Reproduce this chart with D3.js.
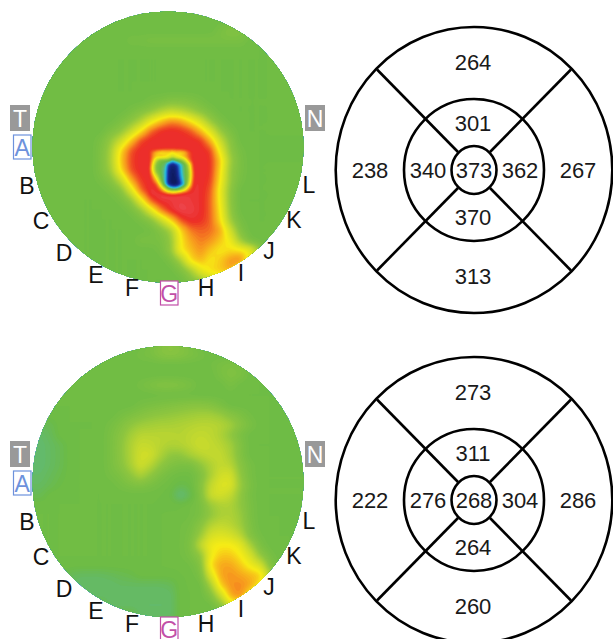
<!DOCTYPE html>
<html><head><meta charset="utf-8">
<script src="https://cdnjs.cloudflare.com/ajax/libs/d3/7.8.5/d3.min.js"></script>
<style>html,body{margin:0;padding:0;background:#fff}svg{display:block}text{font-family:"Liberation Sans",Arial,sans-serif}</style>
</head><body><svg id="c" width="613" height="639"></svg>
<script>
// Thickness levels: [y, xStart, values every 10 px...]; anything not listed is the base level.
const baseLevel = 41;
const topMapRows = [
[30,220,44,47,46,44],[40,130,43,43,44,44,44,44,44,44,44,44,44,44],
[100,150,43,44,46,46,45,43],
[110,130,43,46,49,55,59,57,53,48,44],
[120,120,44,48,55,67,76,82,80,72,63,51,44],
[130,110,45,49,59,72,85,90,91,90,87,78,65,51,44],
[140,100,44,51,61,76,88,91,91,91,91,91,90,79,61,48],
[150,100,45,54,74,87,91,90,90,90,90,91,91,89,69,50,43],
[160,100,45,55,76,88,91,91,91,91,91,91,91,90,76,53,44],
[170,100,45,53,73,87,91,91,91,91,91,91,91,90,74,51,44],
[180,100,43,47,59,79,89,91,91,91,91,91,91,89,72,51,43],
[190,110,43,47,65,85,92,94,93,92,92,91,87,69,49],
[200,120,43,49,68,87,92,92,93,92,91,86,70,49],
[210,130,43,50,66,83,91,94,93,91,86,72,50],
[220,140,43,47,59,74,87,91,90,86,74,53,43],
[230,150,42,46,54,74,84,86,85,80,63,46],
[240,140,44,44,44,50,72,80,84,82,76,70,53,43],
[250,160,43,50,72,77,82,76,72,74,74,70,51,42],
[260,170,44,54,74,78,72,76,82,84,67,47],
[270,180,45,54,68,74,76,80,65,47],
[280,190,46,52,60,64,54]
];
const topFoveaRows = [
[91,90,88,84,78,76,76,80,84,88,90,91,91],
[88,84,76,70,72,74,70,74,72,76,86,90,91],
[88,84,76,80,78,72,64,72,76,80,86,90,91],
[90,80,58,42,42,42,22,36,44,58,82,90,91],
[88,74,46,40,36,8,3,8,22,36,60,88,91],
[84,70,44,40,30,6,1,4,20,36,54,86,91],
[88,76,50,40,28,4,0,3,18,36,50,84,91],
[90,84,66,42,28,4,0,2,16,34,50,84,91],
[91,88,78,50,26,3,0,0,12,30,54,86,91],
[91,90,88,68,30,6,0,0,8,26,64,88,91],
[91,91,90,84,66,36,24,24,40,60,82,90,91],
[91,92,91,90,86,80,76,78,84,88,90,91,91],
[92,93,92,91,91,90,90,90,91,91,91,91,91]
];
const bottomMapRows = [
[10,150,44,47,49,47,44],[20,140,43,44,47,48,47,45,43],
[30,210,42,44,45,44],[40,220,44,46,45],[50,140,43,45,47,47,46,44],[50,230,44],
[70,140,43,44,45,46,47,48,48,47,44],
[80,120,43,45,47,49,50,51,52,53,54,54,52,48,45,42],
[90,40,37,38],[90,110,43,46,50,53,54,55,55,56,57,58,58,57,54,48,44],
[100,30,35,35,37],[100,110,44,48,54,58,58,58,58,57,59,60,59,56,50,44],
[110,30,34,34,36,38],[110,110,44,49,56,61,60,58,56,57,59,62,60,58,54,46],
[120,30,34,34,36,38],[120,110,44,49,56,63,63,56,50,50,55,58,60,60,55,46],
[130,30,34,34,36,38],[130,110,44,48,55,63,58,50,46,44,44,50,56,60,58,48,43],
[140,30,35,35,37,39],[140,110,43,45,50,56,50,45,42,41,41,45,55,63,64,50,43],
[150,30,36,36,38,40],[150,120,43,45,46,44,42,41,39,40,47,60,66,66,52,44],
[160,30,38,38],[160,170,40,32,38,46,62,64,60,50,43],
[170,190,42,44,52,56,56,50,44],
[180,190,42,44,50,55,56,52,44],
[190,180,42,43,48,57,60,58,53,45],
[200,180,42,44,52,64,66,64,58,46,42],
[210,180,42,45,60,70,72,72,68,55,44],
[220,180,42,44,50,70,76,76,72,64,50,43],
[230,190,42,46,74,80,80,76,70,64,46],
[240,70,37,36,36,36,37,38,39],[240,190,41,44,66,80,82,80,78,76,56],
[250,70,36,35,35,35,35,36,36,36,36,36,37,41,41,41,54,76,82,83,80,72,46],
[260,90,35,35,35,35,35,35,35,35,35,41,41,41,46,62,80,83,70,50],
[270,110,35,35,35,35,35,35,35,41,41,41,41,48,66,72,54],
[280,140,35,35,35,35,41,41,41,41,41,44,50,52,46]
];
const mapLetters = ["B","C","D","E","F","H","I","J","K","L"];
const topValues = [264,238,301,340,373,362,370,267,313];
const bottomValues = [273,222,311,276,268,304,264,286,260];

const svg = d3.select("#c");
const color = d3.scaleLinear()
  .domain([0,8,16,24,32,40,50,60,72,82,90,99])
  .range(["#0d1a5e","#1b2f9a","#1f7fd0","#2fc0d8","#5fb97c","#6cbb45","#8ec63f","#c4d92e","#f7ec15","#f7941e","#ec2a26","#ee6a80"]);
const W = 300, H = 300, X0 = 20;
function bil(grid, gx, gy){
  const n=grid.length, m=grid[0].length;
  gx=Math.max(0,Math.min(m-1.001,gx)); gy=Math.max(0,Math.min(n-1.001,gy));
  const i=Math.floor(gy), j=Math.floor(gx), a=gy-i, b=gx-j;
  return (grid[i][j]*(1-b)+grid[i][j+1]*b)*(1-a)+(grid[i+1][j]*(1-b)+grid[i+1][j+1]*b)*a;
}
const gridX = d3.scaleLinear([20,320],[0,30]), gridY = d3.scaleLinear([0,300],[0,30]);
function field(rows, fine){
  const grid = d3.range(31).map(()=>d3.range(31).map(()=>baseLevel));
  rows.forEach(r=>{ const y=r[0], x=r[1];
    r.slice(2).forEach((v,k)=>{ grid[Math.round(gridY(y))][Math.round(gridX(x+10*k))]=v; }); });
  const data = new Float64Array(W*H);
  for(let y=0;y<H;y++) for(let x=0;x<W;x++) data[y*W+x]=bil(grid,gridX(x+X0),gridY(y));
  d3.blur2({data,width:W,height:H},2);
  if(fine){
    const fx=d3.scaleLinear([148,196],[0,12]), fy=d3.scaleLinear([148,196],[0,12]);
    for(let y=148;y<=196;y++) for(let x=148;x<=196;x++){
      const w=Math.min(1,Math.min(x-148,196-x,y-148,196-y)/4);
      const i=y*W+(x-X0);
      data[i]=data[i]*(1-w)+bil(fine,fx(x),fy(y))*w;
    }
  }
  d3.blur2({data,width:W,height:H},0.8);
  return data;
}
function drawMap(id, dy, rows, fine){
  const cx=168, cy=147, r=135.5;
  svg.append("clipPath").attr("id",id).append("circle").attr("cx",cx).attr("cy",cy).attr("r",r);
  const g=svg.append("g").attr("transform",`translate(0,${dy})`);
  const cg=g.append("g").attr("clip-path",`url(#${id})`);
  cg.append("circle").attr("cx",cx).attr("cy",cy).attr("r",r).attr("fill",color(baseLevel));
  const step=1, levels=d3.range(0,100,step);
  const cs=d3.contours().size([W,H]).thresholds(levels)(field(rows,fine));
  const path=d3.geoPath();
  cg.append("g").attr("transform",`translate(${X0},0)`).selectAll("path").data(cs).join("path")
    .attr("d",path).attr("fill",d=>color(d.value+step/2));
}
function drawLabels(dy){
  const g=svg.append("g").attr("transform",`translate(0,${dy})`);
  const fs=23;
  const pos=[[27,186],[41,221],[64,253],[96,275],[132,288],[206,288],[241,273],[269,251],[294,220],[309,185]];
  mapLetters.forEach((t,i)=>g.append("text").attr("x",pos[i][0]).attr("y",pos[i][1]).attr("text-anchor","middle").attr("dominant-baseline","central").attr("font-size",fs).attr("fill","#111").text(t));
  [["T",10,105],["N",305,105]].forEach(([t,x,y])=>{
    g.append("rect").attr("x",x).attr("y",y).attr("width",20).attr("height",26).attr("fill","#999");
    g.append("text").attr("x",x+10).attr("y",y+14).attr("text-anchor","middle").attr("dominant-baseline","central").attr("font-size",fs).attr("fill","#fff").text(t);
  });
  [["A",13.5,135,17.5,24,"#6d92dc"],["G",160.5,281,17.5,24,"#c24fa8"]].forEach(([t,x,y,w,h,c])=>{
    g.append("rect").attr("x",x).attr("y",y).attr("width",w).attr("height",h).attr("fill","#fff").attr("stroke",c).attr("stroke-width",1.2);
    g.append("text").attr("x",x+w/2).attr("y",y+h/2+.5).attr("text-anchor","middle").attr("dominant-baseline","central").attr("font-size",fs).attr("fill",c).text(t);
  });
}
function drawRing(dy, vals){
  const g=svg.append("g").attr("transform",`translate(474,${170+dy})`).attr("fill","none").attr("stroke","#000").attr("stroke-width",2.6);
  [[138.3,143],[70,71],[22.5,24]].forEach(([a,b])=>g.append("ellipse").attr("rx",a).attr("ry",b));
  [[-1,-1],[1,-1],[-1,1],[1,1]].forEach(([sx,sy])=>g.append("line").attr("x1",sx*16).attr("y1",sy*18).attr("x2",sx*97).attr("y2",sy*100.5));
  const pos=[[-1,-108],[-104,0],[-1,-47],[-46,0],[0,0],[46,0],[-1,47],[104,0],[-1,106]];
  vals.forEach((v,i)=>svg.append("text").attr("x",474+pos[i][0]).attr("y",170+dy+pos[i][1]).attr("text-anchor","middle").attr("dominant-baseline","central").attr("font-size",22).attr("fill","#1a1a1a").text(v));
}
drawMap("m1",0,topMapRows,topFoveaRows);
drawMap("m2",334.5,bottomMapRows,null);
drawLabels(0); drawLabels(336);
drawRing(0,topValues); drawRing(330,bottomValues);
</script></body></html>
